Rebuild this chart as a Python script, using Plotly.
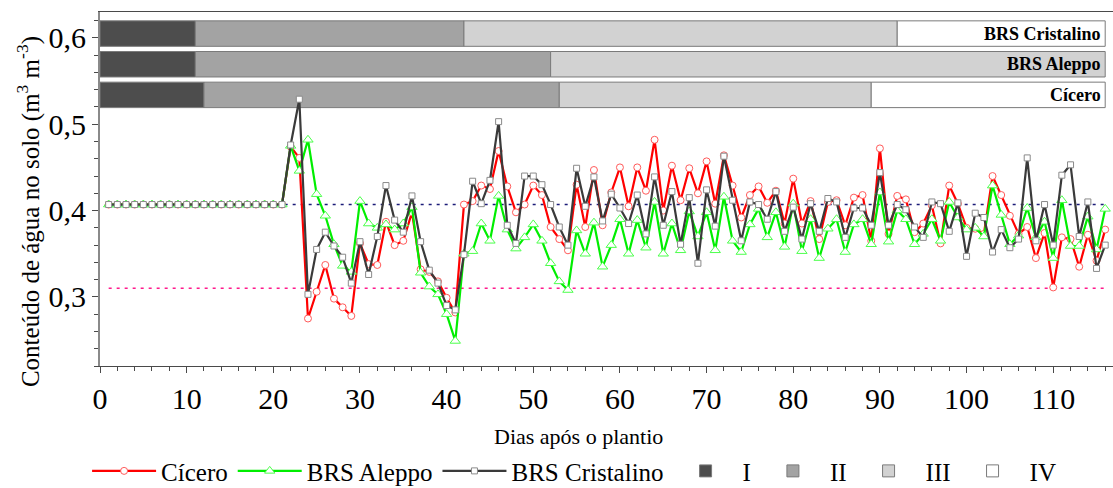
import plotly.graph_objects as go

days = list(range(1, 117))

cicero = [0.407, 0.407, 0.407, 0.407, 0.407, 0.407, 0.407, 0.407, 0.407, 0.407,
          0.407, 0.407, 0.407, 0.407, 0.407, 0.407, 0.407, 0.407, 0.407, 0.407,
          0.407, 0.474, 0.461, 0.275, 0.306, 0.337, 0.298, 0.288, 0.278, 0.362,
          0.338, 0.337, 0.387, 0.360, 0.365, 0.398, 0.332, 0.329, 0.318, 0.299,
          0.282, 0.407, 0.411, 0.429, 0.425, 0.469, 0.428, 0.398, 0.407, 0.429,
          0.418, 0.381, 0.367, 0.354, 0.430, 0.381, 0.447, 0.383, 0.421, 0.450,
          0.405, 0.450, 0.423, 0.482, 0.400, 0.452, 0.412, 0.449, 0.420, 0.457,
          0.408, 0.464, 0.429, 0.392, 0.418, 0.428, 0.409, 0.423, 0.385, 0.437,
          0.385, 0.411, 0.367, 0.410, 0.412, 0.383, 0.415, 0.418, 0.365, 0.472,
          0.373, 0.417, 0.413, 0.375, 0.385, 0.406, 0.362, 0.429, 0.408, 0.380,
          0.379, 0.373, 0.440, 0.418, 0.394, 0.373, 0.381, 0.345, 0.374, 0.311,
          0.369, 0.367, 0.335, 0.372, 0.342, 0.378]

aleppo = [0.407, 0.407, 0.407, 0.407, 0.407, 0.407, 0.407, 0.407, 0.407, 0.407,
          0.407, 0.407, 0.407, 0.407, 0.407, 0.407, 0.407, 0.407, 0.407, 0.407,
          0.407, 0.475, 0.446, 0.482, 0.419, 0.394, 0.361, 0.336, 0.329, 0.411,
          0.385, 0.380, 0.384, 0.378, 0.385, 0.404, 0.328, 0.312, 0.303, 0.280,
          0.249, 0.350, 0.353, 0.385, 0.365, 0.417, 0.378, 0.356, 0.369, 0.384,
          0.365, 0.339, 0.318, 0.308, 0.377, 0.350, 0.386, 0.335, 0.360, 0.390,
          0.350, 0.389, 0.357, 0.410, 0.350, 0.385, 0.354, 0.399, 0.370, 0.398,
          0.354, 0.416, 0.365, 0.352, 0.384, 0.402, 0.369, 0.398, 0.358, 0.408,
          0.353, 0.390, 0.345, 0.379, 0.390, 0.352, 0.384, 0.390, 0.361, 0.421,
          0.364, 0.400, 0.390, 0.361, 0.373, 0.390, 0.365, 0.410, 0.392, 0.378,
          0.380, 0.370, 0.429, 0.395, 0.361, 0.371, 0.403, 0.369, 0.387, 0.345,
          0.412, 0.359, 0.359, 0.393, 0.355, 0.402]

cristalino = [0.407, 0.407, 0.407, 0.407, 0.407, 0.407, 0.407, 0.407, 0.407, 0.407,
              0.407, 0.407, 0.407, 0.407, 0.407, 0.407, 0.407, 0.407, 0.407, 0.407,
              0.407, 0.476, 0.529, 0.303, 0.355, 0.375, 0.359, 0.346, 0.316, 0.364,
              0.326, 0.370, 0.429, 0.389, 0.375, 0.417, 0.364, 0.331, 0.316, 0.290,
              0.285, 0.349, 0.434, 0.408, 0.435, 0.503, 0.383, 0.362, 0.440, 0.440,
              0.430, 0.407, 0.381, 0.360, 0.449, 0.405, 0.439, 0.388, 0.419, 0.403,
              0.385, 0.418, 0.373, 0.439, 0.383, 0.422, 0.361, 0.415, 0.339, 0.424,
              0.382, 0.463, 0.412, 0.365, 0.410, 0.407, 0.390, 0.422, 0.376, 0.404,
              0.367, 0.408, 0.376, 0.414, 0.410, 0.369, 0.403, 0.403, 0.383, 0.444,
              0.383, 0.407, 0.401, 0.381, 0.369, 0.410, 0.408, 0.376, 0.409, 0.347,
              0.397, 0.392, 0.352, 0.378, 0.357, 0.367, 0.461, 0.365, 0.407, 0.360,
              0.441, 0.453, 0.370, 0.410, 0.333, 0.360]

# reference levels (field capacity / wilting point)
field_capacity = 0.407
wilting_point = 0.31
ref_days = [1, 116]

# phenological phases (start/end day per cultivar)
cultivars = ["BRS Cristalino", "BRS Aleppo", "Cícero"]
bar_levels = [0.605, 0.5695, 0.534]
phase_names = ["I", "II", "III", "IV"]
phase_colors = ["#4d4d4d", "#a3a3a3", "#d2d2d2", "#ffffff"]
phase_bounds = {
    "BRS Cristalino": [0, 11, 42, 92, 116],
    "BRS Aleppo": [0, 11, 52, 116],
    "Cícero": [0, 12, 53, 89, 116],
}

x_title = "Dias após o plantio"
y_title = "Conteúdo de água no solo (m<sup>3</sup> m<sup>-3</sup>)"

SERIF = "Liberation Serif, Times New Roman, serif"

fig = go.Figure()

for pi, (pname, pcol) in enumerate(zip(phase_names, phase_colors)):
    ys, bases, lens = [], [], []
    for cname, lvl in zip(cultivars, bar_levels):
        b = phase_bounds[cname]
        if pi + 1 < len(b):
            ys.append(lvl)
            bases.append(b[pi])
            lens.append(b[pi + 1] - b[pi])
    fig.add_trace(go.Bar(
        y=ys, x=lens, base=bases, orientation="h", width=0.0295,
        marker=dict(color=pcol, line=dict(color="#7a7a7a", width=1)),
        name=pname, legendrank=10 + pi, showlegend=True,
    ))

fig.add_trace(go.Scatter(x=ref_days, y=[field_capacity] * 2, mode="lines",
                         line=dict(color="#1c1c78", width=1.5, dash="3px,5px"),
                         showlegend=False, hoverinfo="skip"))
fig.add_trace(go.Scatter(x=ref_days, y=[wilting_point] * 2, mode="lines",
                         line=dict(color="#ff1a8c", width=1.5, dash="3px,5px"),
                         showlegend=False, hoverinfo="skip"))

series = [
    ("Cícero", cicero, "#ff0000", "#ff5a5a", "circle", 7),
    ("BRS Aleppo", aleppo, "#00ee00", "#4cff4c", "triangle-up", 9),
    ("BRS Cristalino", cristalino, "#3a3a3a", "#8a8a8a", "square", 6),
]
for rank, (nm, vals, lc, mc, sym, sz) in enumerate(series):
    fig.add_trace(go.Scatter(
        x=days, y=vals, mode="lines+markers", name=nm, legendrank=1 + rank,
        line=dict(color=lc, width=2.2),
        marker=dict(symbol=sym, size=sz, color="white",
                    line=dict(color=mc, width=1)),
    ))

for cname, lvl in zip(cultivars, bar_levels):
    fig.add_annotation(x=phase_bounds[cname][-1] - 0.3, y=lvl, xref="x", yref="y",
                       text="<b>%s</b>" % cname, showarrow=False, xanchor="right",
                       yanchor="middle", font=dict(family=SERIF, size=18, color="black"))

# axis titles placed as annotations to match reference positions
fig.add_annotation(x=0.472, y=-0.2, xref="paper", yref="paper", text=x_title,
                   showarrow=False, xanchor="center", yanchor="middle",
                   font=dict(family=SERIF, size=22, color="black"))
fig.add_annotation(x=-0.071, y=0.435, xref="paper", yref="paper", text=y_title,
                   showarrow=False, xanchor="center", yanchor="middle", textangle=-90,
                   font=dict(family=SERIF, size=25, color="black"))

fig.update_layout(
    width=1113, height=488,
    margin=dict(l=100, r=0, t=12, b=122, autoexpand=False),
    paper_bgcolor="white", plot_bgcolor="white",
    barmode="overlay",
    separators=",.",
    font=dict(family=SERIF, color="black"),
    showlegend=True,
    legend=dict(orientation="h", x=0.468, xanchor="center", y=-0.297, yanchor="middle",
                font=dict(family=SERIF, size=25), itemwidth=64,
                bgcolor="rgba(0,0,0,0)", tracegroupgap=0),
)
fig.update_xaxes(
    range=[0, 116.9], dtick=10, tick0=0, showgrid=False, zeroline=False,
    showline=True, linecolor="#4a4a4a", linewidth=1, mirror=True,
    ticks="outside", ticklen=6, tickcolor="#4a4a4a",
    minor=dict(dtick=2, ticks="outside", ticklen=4, tickcolor="#4a4a4a", showgrid=False),
    tickfont=dict(family=SERIF, size=30), automargin=False,
)
fig.update_yaxes(
    range=[0.22, 0.63], dtick=0.1, tick0=0, tickformat=".1f",
    showgrid=False, zeroline=False,
    showline=True, linecolor="#8a8a8a", linewidth=2,
    ticks="outside", ticklen=6, tickcolor="#4a4a4a",
    minor=dict(dtick=0.02, ticks="outside", ticklen=4, tickcolor="#4a4a4a", showgrid=False),
    tickfont=dict(family=SERIF, size=30), automargin=False,
)

fig.write_html("out.html")
